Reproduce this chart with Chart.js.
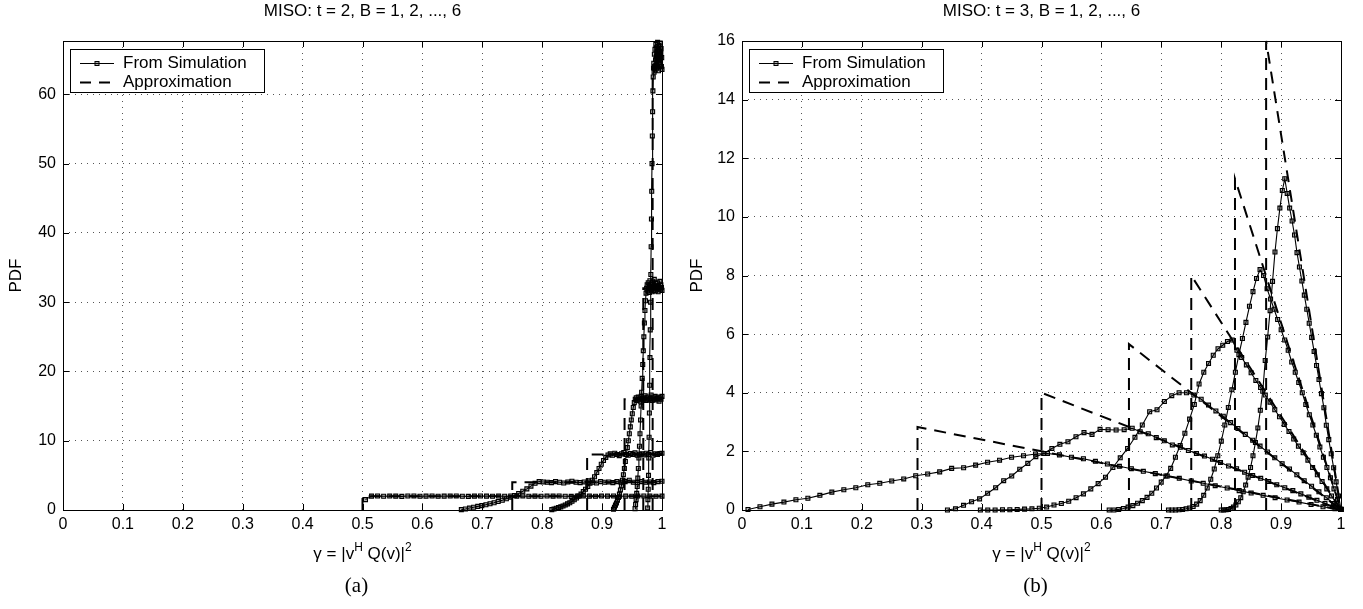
<!DOCTYPE html>
<html>
<head>
<meta charset="utf-8">
<script src="https://cdn.jsdelivr.net/npm/chart.js@4.4.1/dist/chart.umd.min.js"></script>
<style>
  html, body { margin: 0; padding: 0; background: #fff; }
  #wrap { position: relative; width: 1363px; height: 609px; }
  canvas { position: absolute; top: 0; }
  #left { left: 0; }
  #right { left: 680px; }
</style>
</head>
<body>
<div id="wrap">
  <canvas id="left" width="680" height="609"></canvas>
  <canvas id="right" width="683" height="609"></canvas>
</div>
<script>
const FONT = '"Liberation Sans", Arial, Helvetica, sans-serif';

// ---- panel (a): t = 2, B = 1..6 ----
// simulated PDF: histogram bins spread evenly over [from, to]
const rangeA = [[0.505, 1.0], [0.665, 1.0], [0.816, 1.0], [0.919, 1.0], [0.955, 1.0], [0.976, 1.0]];
const simA1 = [1.5, 2.0, 2.02, 1.98, 2.01, 2.0, 1.97, 2.02, 2.03, 1.99, 2.0, 2.02, 1.98, 2.0, 2.01, 2.03, 1.98, 1.97, 2.0, 2.02,
  2.0, 1.99, 2.01, 1.98, 2.02, 2.0, 2.03, 1.99, 2.0, 1.98, 2.01, 2.0, 2.02, 1.99, 1.97, 2.0, 2.03, 2.0, 1.98, 2.01,
  2.0, 2.02, 1.99, 2.0, 1.98, 2.01, 2.03, 2.0, 1.99, 2.0];
const simA2 = [0.05, 0.15, 0.28, 0.40, 0.52, 0.63, 0.76, 0.90, 1.05, 1.22, 1.40, 1.62, 1.85, 2.10, 2.38, 2.70, 3.05, 3.45, 3.85, 4.10,
  4.05, 4.00, 3.95, 4.10, 4.00, 3.90, 4.05, 4.15, 4.00, 3.95, 4.05, 4.20, 4.00, 3.90, 4.10, 4.00, 4.05, 3.95, 4.10, 4.00,
  4.10, 4.30, 4.00, 3.95, 4.10, 4.00, 4.05, 3.95, 4.10, 4.15];
const simA3 = [0.05, 0.15, 0.25, 0.35, 0.45, 0.58, 0.72, 0.88, 1.05, 1.25, 1.48, 1.72, 2.00, 2.30, 2.65, 3.00, 3.40, 3.85, 4.30, 4.80,
  5.40, 6.00, 6.60, 7.15, 7.60, 7.95, 8.10, 7.90, 8.20, 8.00, 7.85, 8.10, 8.30, 8.00, 7.90, 8.15, 8.00, 8.25, 7.90, 8.05,
  8.10, 7.95, 8.20, 8.00, 8.30, 7.90, 8.10, 8.00, 8.15, 8.20];
const simA4 = [0.1, 0.4, 0.7, 1.0, 1.4, 1.8, 2.3, 2.9, 3.5, 4.3, 5.1, 6.0, 7.0, 8.0, 9.0, 10.0, 11.0, 12.0, 13.0, 13.9,
  14.8, 15.5, 16.0, 16.2, 15.8, 16.3, 16.0, 15.7, 16.4, 16.1, 15.9, 16.2, 16.5, 15.8, 16.0, 16.3, 15.9, 16.1, 16.6, 15.8,
  16.2, 16.0, 16.4, 15.9, 16.1, 16.3, 15.7, 16.2, 16.0, 16.4];
const simA5 = [0.2, 0.8, 1.5, 2.4, 3.4, 4.6, 6.0, 7.5, 9.2, 11.0, 13.0, 15.0, 17.0, 19.0, 21.0, 23.0, 25.0, 27.0, 28.8, 30.2,
  31.3, 32.0, 32.5, 31.6, 32.8, 32.0, 31.4, 33.1, 32.2, 31.8, 32.6, 31.5, 32.9, 32.1, 31.7, 33.3, 32.0, 31.6, 32.7, 32.3,
  31.9, 32.8, 31.5, 32.4, 32.0, 33.0, 31.8, 32.5, 32.1, 31.7];
const simA6 = [0.3, 1.5, 3.0, 5.0, 7.5, 10.5, 14, 18, 22, 26, 30, 34, 38, 42, 46, 50, 54, 57.5, 60.5, 62.5,
  63.8, 64.5, 63.2, 65.8, 64.0, 66.5, 63.5, 65.0, 67.2, 64.2, 65.5, 66.8, 63.8, 65.2, 67.5, 64.6, 66.0, 63.4, 65.7, 67.0,
  64.8, 66.2, 65.0, 67.4, 64.4, 65.9, 66.6, 64.0, 65.3, 63.6];
// approximation: [gamma, pdf] corners of each dashed curve
const approxA1 = [[0.5, 0], [0.5, 2], [1, 2]];
const approxA2 = [[0.75, 0], [0.75, 4], [1, 4]];
const approxA3 = [[0.875, 0], [0.875, 8], [1, 8]];
const approxA4 = [[0.9375, 0], [0.9375, 16], [1, 16]];
const approxA5 = [[0.96875, 0], [0.96875, 32], [1, 32]];
const approxA6 = [[0.984375, 0], [0.984375, 64], [1, 64]];

// ---- panel (b): t = 3, B = 1..6 ----
const rangeB = [[0.01, 0.99], [0.343, 1.0], [0.398, 1.0], [0.613, 1.0], [0.712, 1.0], [0.8, 1.0]];
const simB1 = [0.02, 0.11, 0.20, 0.27, 0.35, 0.40, 0.50, 0.61, 0.69, 0.76, 0.86, 0.91, 0.99, 1.06, 1.17, 1.23, 1.30, 1.42, 1.44, 1.53,
  1.63, 1.70, 1.80, 1.85, 1.91, 1.93, 1.88, 1.80, 1.75, 1.66, 1.57, 1.49, 1.41, 1.32, 1.24, 1.16, 1.08, 0.99, 0.91, 0.83,
  0.75, 0.66, 0.58, 0.50, 0.42, 0.34, 0.27, 0.19, 0.11, 0.04];
const simB2 = [0.00, 0.04, 0.16, 0.28, 0.38, 0.57, 0.76, 1.00, 1.16, 1.39, 1.59, 1.82, 1.93, 2.10, 2.24, 2.33, 2.50, 2.64, 2.58, 2.75,
  2.74, 2.73, 2.74, 2.79, 2.67, 2.60, 2.47, 2.36, 2.22, 2.14, 2.03, 1.93, 1.84, 1.73, 1.62, 1.50, 1.41, 1.29, 1.18, 1.08,
  0.97, 0.86, 0.76, 0.66, 0.55, 0.44, 0.33, 0.22, 0.11, 0.02];
const simB3 = [0.00, 0.00, 0.00, 0.01, 0.01, 0.02, 0.03, 0.04, 0.06, 0.10, 0.17, 0.22, 0.30, 0.42, 0.55, 0.72, 0.90, 1.12, 1.45, 1.78,
  2.10, 2.48, 2.90, 3.35, 3.42, 3.70, 3.90, 4.00, 4.00, 3.92, 3.78, 3.58, 3.38, 3.20, 2.98, 2.78, 2.58, 2.38, 2.18, 1.98,
  1.78, 1.58, 1.40, 1.20, 1.00, 0.81, 0.62, 0.42, 0.22, 0.03];
const simB4 = [0.00, 0.00, 0.02, 0.05, 0.10, 0.15, 0.23, 0.32, 0.43, 0.57, 0.75, 0.95, 1.16, 1.42, 1.80, 2.20, 2.62, 3.10, 3.60, 4.30,
  4.70, 5.00, 5.28, 5.50, 5.62, 5.75, 5.80, 5.45, 5.20, 4.95, 4.68, 4.42, 4.18, 3.92, 3.68, 3.42, 3.18, 2.92, 2.68, 2.42,
  2.18, 1.95, 1.70, 1.45, 1.20, 0.97, 0.72, 0.48, 0.24, 0.02];
const simB5 = [0.00, 0.00, 0.00, 0.01, 0.02, 0.04, 0.07, 0.12, 0.20, 0.32, 0.50, 0.75, 1.05, 1.40, 1.85, 2.35, 2.90, 3.50, 4.10, 4.70,
  5.30, 5.85, 6.40, 6.95, 7.45, 7.90, 8.20, 8.00, 7.55, 7.20, 6.85, 6.50, 6.15, 5.80, 5.45, 5.05, 4.70, 4.35, 4.00, 3.60,
  3.25, 2.90, 2.55, 2.15, 1.80, 1.45, 1.10, 0.72, 0.36, 0.02];
const simB6 = [0.00, 0.00, 0.01, 0.02, 0.05, 0.10, 0.17, 0.28, 0.42, 0.62, 0.85, 1.12, 1.45, 1.85, 2.30, 2.80, 3.40, 4.05, 5.10, 5.90,
  6.80, 7.80, 8.80, 9.60, 10.30, 10.90, 11.30, 10.80, 10.30, 9.86, 9.38, 8.78, 8.29, 7.81, 7.33, 6.85, 6.37, 5.89, 5.41, 4.93,
  4.45, 3.97, 3.49, 2.89, 2.40, 1.92, 1.44, 0.96, 0.48, 0.02];
const approxB1 = [[0.293, 0], [0.293, 2.83], [1, 0]];
const approxB2 = [[0.5, 0], [0.5, 4.0], [1, 0]];
const approxB3 = [[0.646, 0], [0.646, 5.66], [1, 0]];
const approxB4 = [[0.75, 0], [0.75, 8.0], [1, 0]];
const approxB5 = [[0.823, 0], [0.823, 11.3], [1, 0]];
const approxB6 = [[0.875, 0], [0.875, 16], [1, 0]];

// bins are evenly spaced over their range
function toPoints(range, ys) {
  const step = (range[1] - range[0]) / (ys.length - 1);
  return ys.map((y, i) => ({ x: range[0] + i * step, y }));
}

const DASH = [12, 8];

function simSet(range, ys) {
  return {
    data: toPoints(range, ys), showLine: true, borderColor: '#000', borderWidth: 1.1,
    pointStyle: 'rect', pointRadius: 2.8, pointBorderWidth: 1.1, pointBorderColor: '#000',
    pointBackgroundColor: 'rgba(0,0,0,0.3)', clip: 6
  };
}

function approxSet(pairs) {
  return {
    data: pairs.map(([x, y]) => ({ x, y })), showLine: true, borderColor: '#000', borderWidth: 2,
    borderDash: DASH, pointRadius: 0, clip: 6
  };
}

// matlab-like frame: box, inward ticks, legend box and captions
const frame = {
  id: 'frame',
  afterDatasetsDraw(chart, args, opts) {
    const { ctx, chartArea: a, scales: { x, y } } = chart;
    ctx.save();
    ctx.setLineDash([]);
    ctx.strokeStyle = '#000';
    ctx.lineWidth = 1;
    ctx.beginPath();
    x.ticks.forEach(t => {
      const p = Math.round(x.getPixelForValue(t.value)) + 0.5;
      ctx.moveTo(p, a.bottom); ctx.lineTo(p, a.bottom - 6);
      ctx.moveTo(p, a.top); ctx.lineTo(p, a.top + 6);
    });
    y.ticks.forEach(t => {
      const p = Math.round(y.getPixelForValue(t.value)) + 0.5;
      ctx.moveTo(a.left, p); ctx.lineTo(a.left + 6, p);
      ctx.moveTo(a.right, p); ctx.lineTo(a.right - 6, p);
    });
    ctx.stroke();
    ctx.strokeRect(a.left + 0.5, a.top + 0.5, a.right - a.left, a.bottom - a.top);

    // legend
    const L = a.left + 7, T = a.top + 8, W = 194, H = 43;
    ctx.fillStyle = '#fff';
    ctx.fillRect(L, T, W, H);
    ctx.strokeRect(L + 0.5, T + 0.5, W, H);
    const y1 = T + 14.5, y2 = T + 33.5;
    ctx.beginPath();
    ctx.moveTo(L + 10, y1); ctx.lineTo(L + 44, y1);
    ctx.stroke();
    ctx.fillStyle = 'rgba(0,0,0,0.3)';
    ctx.fillRect(L + 25, y1 - 2, 4, 4);
    ctx.strokeRect(L + 25, y1 - 2, 4, 4);
    ctx.lineWidth = 2;
    ctx.setLineDash([11, 8]);
    ctx.beginPath();
    ctx.moveTo(L + 10, y2); ctx.lineTo(L + 44, y2);
    ctx.stroke();
    ctx.setLineDash([]);
    ctx.fillStyle = '#000';
    ctx.font = '17px ' + FONT;
    ctx.textAlign = 'left';
    ctx.textBaseline = 'middle';
    ctx.fillText('From Simulation', L + 53, y1);
    ctx.fillText('Approximation', L + 53, y2);

    // title
    const cx = (a.left + a.right) / 2;
    ctx.textAlign = 'center';
    ctx.fillText(opts.title, cx, 11);

    // y label
    ctx.save();
    ctx.translate(opts.yLabelX, (a.top + a.bottom) / 2);
    ctx.rotate(-Math.PI / 2);
    ctx.font = '17px ' + FONT;
    ctx.fillText('PDF', 0, 0);
    ctx.restore();

    // x label with superscripts
    const parts = [['\u03b3 = |v', 0], ['H', 1], [' Q(v)|', 0], ['2', 1]];
    const fMain = '17px ' + FONT, fSup = '12px ' + FONT;
    let total = 0;
    parts.forEach(([s, sup]) => { ctx.font = sup ? fSup : fMain; total += ctx.measureText(s).width; });
    let px = cx - total / 2;
    ctx.textAlign = 'left';
    ctx.textBaseline = 'alphabetic';
    parts.forEach(([s, sup]) => {
      ctx.font = sup ? fSup : fMain;
      ctx.fillText(s, px, sup ? 551 : 559);
      px += ctx.measureText(s).width;
    });

    // panel tag
    ctx.font = '21px "Liberation Serif", "Times New Roman", serif';
    ctx.textAlign = 'center';
    ctx.fillText(opts.tag, cx - 6, 592);
    ctx.restore();
  }
};

function makeOptions(cfg) {
  const tickFont = { size: 16, family: FONT };
  const grid = { color: '#555', lineWidth: 1, drawTicks: false };
  const border = { display: false, dash: [1, 5] };
  return {
    responsive: false, animation: false, events: [],
    layout: { padding: { top: cfg.top, right: cfg.right, left: 0, bottom: 0 } },
    plugins: {
      legend: { display: false }, tooltip: { enabled: false },
      frame: { title: cfg.title, tag: cfg.tag, yLabelX: cfg.yLabelX }
    },
    scales: {
      x: {
        type: 'linear', min: 0, max: 1,
        afterFit: s => { s.height = 99; },
        ticks: { stepSize: 0.1, autoSkip: false, maxRotation: 0, padding: 5, color: '#000', font: tickFont,
          callback: v => String(+v.toFixed(1)) },
        grid, border
      },
      y: {
        type: 'linear', min: 0, max: cfg.yMax,
        afterFit: s => { s.width = cfg.left; },
        ticks: { stepSize: cfg.yStep, includeBounds: false, autoSkip: false, padding: 7, color: '#000', font: tickFont },
        grid, border
      }
    }
  };
}

new Chart(document.getElementById('left'), {
  type: 'scatter',
  data: {
    datasets: [
      approxSet(approxA1), approxSet(approxA2), approxSet(approxA3),
      approxSet(approxA4), approxSet(approxA5), approxSet(approxA6),
      simSet(rangeA[0], simA1), simSet(rangeA[1], simA2), simSet(rangeA[2], simA3),
      simSet(rangeA[3], simA4), simSet(rangeA[4], simA5), simSet(rangeA[5], simA6)
    ]
  },
  options: makeOptions({ top: 41, right: 18, left: 63, yMax: 67.7, yStep: 10,
    title: 'MISO: t = 2, B = 1, 2, ..., 6', tag: '(a)', yLabelX: 16 }),
  plugins: [frame]
});

new Chart(document.getElementById('right'), {
  type: 'scatter',
  data: {
    datasets: [
      approxSet(approxB1), approxSet(approxB2), approxSet(approxB3),
      approxSet(approxB4), approxSet(approxB5), approxSet(approxB6),
      simSet(rangeB[0], simB1), simSet(rangeB[1], simB2), simSet(rangeB[2], simB3),
      simSet(rangeB[3], simB4), simSet(rangeB[4], simB5), simSet(rangeB[5], simB6)
    ]
  },
  options: makeOptions({ top: 41, right: 22, left: 62, yMax: 16, yStep: 2,
    title: 'MISO: t = 3, B = 1, 2, ..., 6', tag: '(b)', yLabelX: 17 }),
  plugins: [frame]
});
</script>
</body>
</html>
